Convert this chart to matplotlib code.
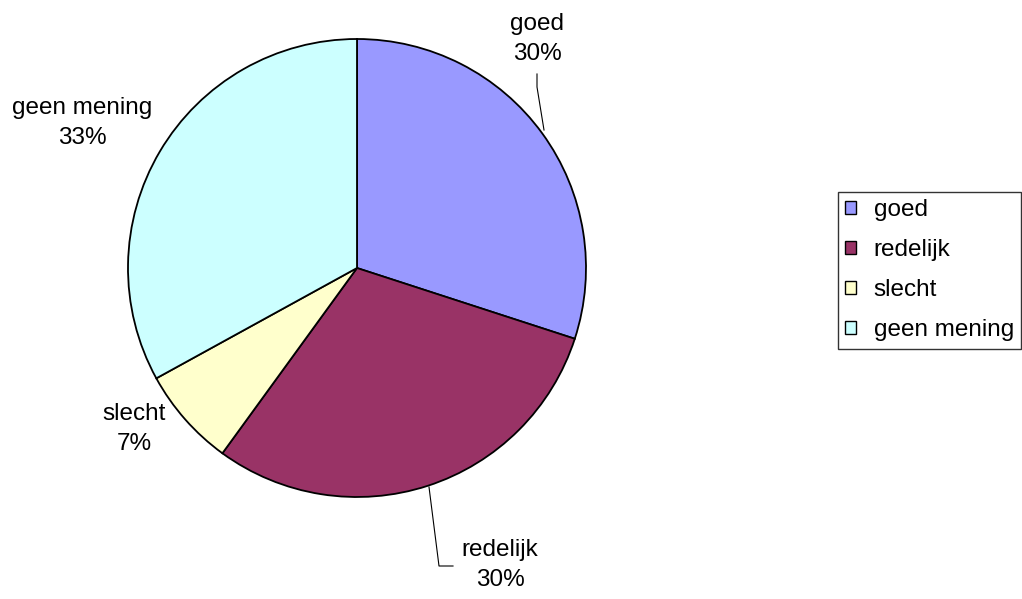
import numpy as np
import matplotlib.pyplot as plt
from matplotlib.patches import Patch

# Survey answers, share in percent.
labels = ["goed", "redelijk", "slecht", "geen mening"]
shares = [30, 30, 7, 33]
colors = ["#9999FF", "#993366", "#FFFFCC", "#CCFFFF"]

W, H = 1022, 599
plt.rcParams['font.family'] = ['Liberation Sans', 'DejaVu Sans']

fig = plt.figure(figsize=(W / 100, H / 100), dpi=100)
ax = fig.add_axes([0, 0, 1, 1])

# work in pixel units, y measured from the top
cx, cy, r = 357, 268, 229
ax.pie(shares, colors=colors, startangle=90, counterclock=False,
       center=(cx, H - cy), radius=r,
       wedgeprops=dict(edgecolor="black", linewidth=1.3))
ax.set_xlim(0, W)
ax.set_ylim(0, H)
ax.axis("off")

# label block centres (pixels from top-left)
label_pos = [(537, 39), (500, 565), (134, 429), (82, 123)]
for name, val, (x, y) in zip(labels, shares, label_pos):
    ax.text(x, H - y, f"{name}\n{val}%", ha="center", va="center",
            fontsize=17.5, linespacing=1.45)

# leader lines for the two outer labels
leaders = [[(544, 130), (537, 87), (537, 74)],
           [(429, 487), (439, 566), (453, 566)]]
for pts in leaders:
    xs = [p[0] for p in pts]
    ys = [H - p[1] for p in pts]
    ax.plot(xs, ys, color="black", linewidth=0.8)

handles = [Patch(facecolor=c, edgecolor="black", linewidth=1.0) for c in colors]
leg = fig.legend(handles, labels, loc="upper left",
                 bbox_to_anchor=(838 / W, 1 - 192 / H), borderaxespad=0,
                 fontsize=17.5, frameon=True, fancybox=False, shadow=False,
                 handlelength=0.42, handleheight=0.42, handletextpad=0.75,
                 labelspacing=0.74, borderpad=0.3)
leg.get_frame().set_edgecolor("black")
leg.get_frame().set_linewidth(1.0)

fig.savefig("out.png", dpi=100)
